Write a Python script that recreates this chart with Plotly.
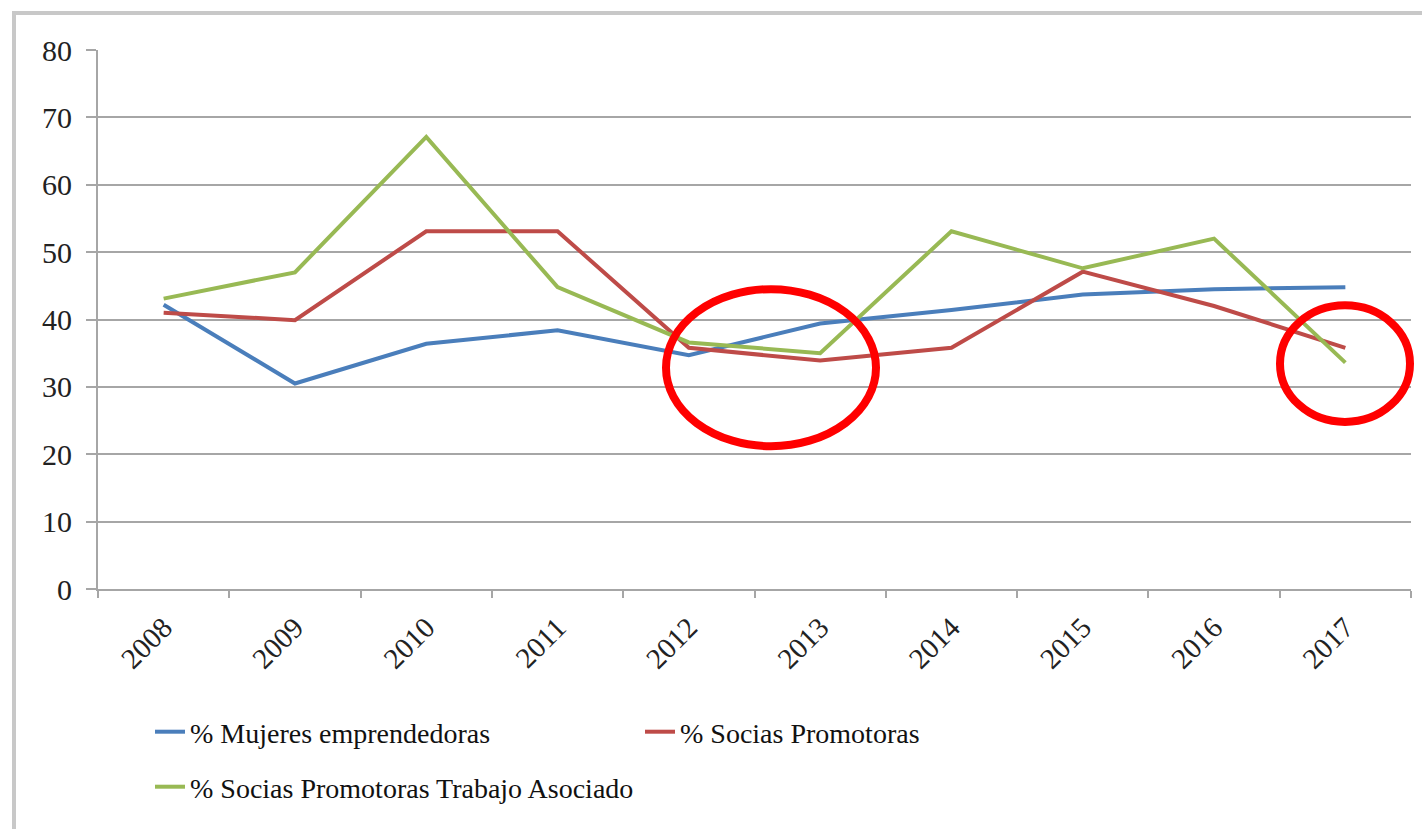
import plotly.graph_objects as go

years = ["2008", "2009", "2010", "2011", "2012", "2013", "2014", "2015", "2016", "2017"]
mujeres_emprendedoras = [42.2, 30.5, 36.4, 38.4, 34.7, 39.4, 41.4, 43.7, 44.5, 44.8]
socias_promotoras = [41.0, 39.9, 53.1, 53.1, 35.8, 33.9, 35.8, 47.1, 42.0, 35.8]
socias_trabajo_asociado = [43.1, 47.0, 67.1, 44.8, 36.6, 35.0, 53.1, 47.6, 52.0, 33.6]

series_names = ["% Mujeres emprendedoras", "% Socias Promotoras",
                "% Socias Promotoras Trabajo Asociado"]
y_ticks = [0, 10, 20, 30, 40, 50, 60, 70, 80]

FONT = "Liberation Serif, Times New Roman, serif"
GRID = "#a6a6a6"

fig = go.Figure()
fig.add_trace(go.Scatter(x=years, y=mujeres_emprendedoras, name=series_names[0],
                         mode="lines", line=dict(color="#4A7EBB", width=4),
                         legend="legend"))
fig.add_trace(go.Scatter(x=years, y=socias_promotoras, name=series_names[1],
                         mode="lines", line=dict(color="#BE4B48", width=4),
                         legend="legend"))
fig.add_trace(go.Scatter(x=years, y=socias_trabajo_asociado, name=series_names[2],
                         mode="lines", line=dict(color="#98B954", width=4),
                         legend="legend2"))

L, R, T, B = 98, 11, 50, 240
W, H = 1422, 829
pw, ph = W - L - R, H - T - B

def px_x(x):
    return (x - L) / pw

def px_y(y):
    return (H - B - y) / ph

shapes = [
    # outer frame
    dict(type="rect", xref="paper", yref="paper",
         x0=px_x(14), x1=px_x(1440), y0=px_y(845), y1=px_y(13),
         line=dict(color="#c8c8c8", width=4), layer="below"),
    # highlight ellipses
    dict(type="circle", xref="paper", yref="y",
         x0=px_x(666), x1=px_x(876), y0=21.2, y1=44.5,
         line=dict(color="#ff0000", width=8)),
    dict(type="circle", xref="paper", yref="y",
         x0=px_x(1280), x1=px_x(1410), y0=24.8, y1=42.1,
         line=dict(color="#ff0000", width=8)),
]

fig.update_layout(
    width=W, height=H,
    margin=dict(l=L, r=R, t=T, b=B),
    paper_bgcolor="white", plot_bgcolor="white",
    font=dict(family=FONT, color="#222222"),
    shapes=shapes,
    legend=dict(orientation="h", x=px_x(150), y=px_y(732), yanchor="middle",
                xanchor="left", entrywidth=445, entrywidthmode="pixels",
                font=dict(family=FONT, size=28, color="#111111"),
                bgcolor="rgba(0,0,0,0)", itemwidth=30),
    legend2=dict(orientation="h", x=px_x(150), y=px_y(787), yanchor="middle",
                 xanchor="left",
                 font=dict(family=FONT, size=28, color="#111111"),
                 bgcolor="rgba(0,0,0,0)", itemwidth=30),
    showlegend=True,
)

fig.update_xaxes(type="category", categoryorder="array", categoryarray=years,
                 range=[-0.5, len(years) - 0.5],
                 tickson="boundaries", ticks="outside", ticklen=7, tickwidth=2,
                 tickcolor=GRID, showline=True, linecolor=GRID, linewidth=2,
                 showgrid=False, tickangle=-45, ticklabelstandoff=8,
                 tickfont=dict(family=FONT, size=29, color="#222222"))
fig.update_yaxes(range=[0, 80], tickvals=y_ticks, ticks="outside", ticklen=10,
                 tickwidth=2, tickcolor=GRID, showline=True, linecolor=GRID,
                 linewidth=2, showgrid=True, gridcolor=GRID, gridwidth=2,
                 zeroline=False, ticklabelstandoff=8,
                 tickfont=dict(family=FONT, size=30, color="#222222"))

fig.write_html("out.html", config={"displayModeBar": False},
               post_script="document.body.style.margin='0px';")
